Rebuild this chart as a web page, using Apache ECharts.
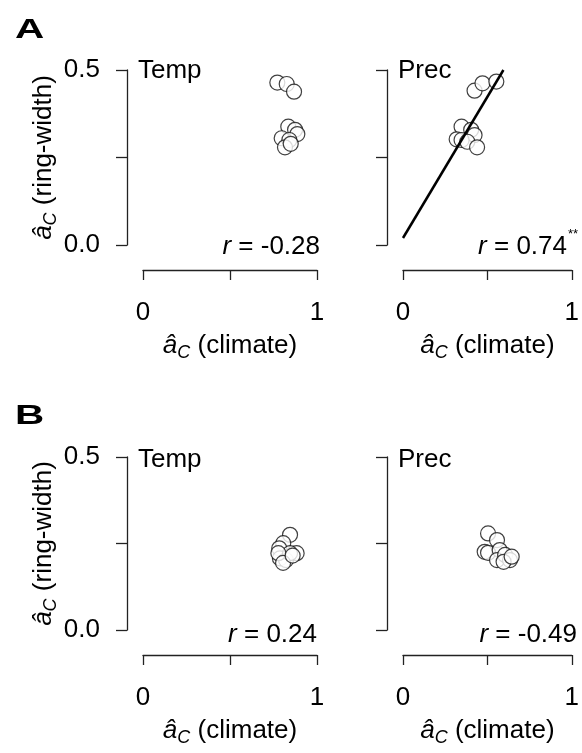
<!DOCTYPE html>
<html><head><meta charset="utf-8">
<script src="https://cdn.jsdelivr.net/npm/echarts@6/dist/echarts.min.js"></script>
<style>html,body{margin:0;padding:0;background:#fff}#c{width:582px;height:753px}</style>
</head><body><div id="c"></div>
<script>
// Data
const tempA_x = [0.772, 0.826, 0.868, 0.835, 0.874, 0.887, 0.797, 0.841, 0.816, 0.849];
const tempA_y = [0.464, 0.460, 0.438, 0.338, 0.329, 0.317, 0.305, 0.300, 0.279, 0.289];
const precA_x = [0.424, 0.471, 0.553, 0.347, 0.404, 0.424, 0.318, 0.347, 0.381, 0.439];
const precA_y = [0.441, 0.462, 0.467, 0.338, 0.329, 0.314, 0.302, 0.300, 0.295, 0.279];
const tempB_x = [0.845, 0.806, 0.783, 0.883, 0.787, 0.822, 0.845, 0.778, 0.805, 0.860];
const tempB_y = [0.275, 0.251, 0.236, 0.222, 0.207, 0.202, 0.222, 0.222, 0.194, 0.215];
const precB_x = [0.504, 0.557, 0.484, 0.504, 0.573, 0.557, 0.605, 0.634, 0.596, 0.644];
const precB_y = [0.279, 0.260, 0.226, 0.223, 0.231, 0.202, 0.217, 0.202, 0.197, 0.212];
const fitA_x = [0.0, 0.595];
const fitA_y = [0.02, 0.5];
const xTicks = [0, 0.5, 1];
const yTicks = [0, 0.25, 0.5];
const panelTitles = ['Temp', 'Prec', 'Temp', 'Prec'];
const rLabels = ['-0.28', '0.74', '0.24', '-0.49'];
const rStars = ['', '**', '', ''];

const FONT = 'Liberation Sans, Arial, sans-serif';
const FS = 26;
const zip = (a, b) => a.map((v, i) => [v, b[i]]);

const grids = [
  {left: 143, top: 70, width: 174, height: 175},
  {left: 403, top: 70, width: 174, height: 175},
  {left: 143, top: 457, width: 174, height: 173},
  {left: 403, top: 457, width: 174, height: 173}
];
const axisLine = {show: true, onZero: false, lineStyle: {color: '#222', width: 1.3}};
const subRich = {
  i: {fontStyle: 'italic', fontSize: FS, fontFamily: FONT, color: '#000'},
  s: {fontStyle: 'italic', fontSize: 18, fontFamily: FONT, color: '#000', padding: [14, 0, 0, 0]},
  n: {fontSize: FS, fontFamily: FONT, color: '#000'}
};
const xAxes = grids.map((g, i) => ({
  gridIndex: i, type: 'value', min: 0, max: 1, interval: 0.5, offset: 25,
  axisLine, axisTick: {show: true, length: 10, lineStyle: {color: '#222', width: 1.3}},
  splitLine: {show: false},
  axisLabel: {margin: 30, fontSize: FS, fontFamily: FONT, color: '#000',
    formatter: v => (v === 0 || v === 1) ? String(v) : ''},
  name: '{i|â}{s|C}{n| (climate)}', nameLocation: 'middle', nameGap: 60,
  nameTextStyle: {rich: subRich}
}));
const yAxes = grids.map((g, i) => ({
  gridIndex: i, type: 'value', min: 0, max: 0.5, interval: 0.25, offset: 16,
  axisLine, axisTick: {show: true, length: 11, lineStyle: {color: '#222', width: 1.3}},
  splitLine: {show: false},
  axisLabel: {show: i % 2 === 0, margin: 27, fontSize: FS, fontFamily: FONT, color: '#000',
    formatter: v => (v === 0 || v === 0.5) ? v.toFixed(1) : ''},
  name: i % 2 === 0 ? '{i|â}{s|C}{n| (ring-width)}' : '', nameLocation: 'middle', nameGap: 64,
  nameRotate: 90, nameTextStyle: {rich: subRich}
}));
const scatterStyle = {color: '#fff', borderColor: '#111', borderWidth: 1.2};
const sets = [[tempA_x, tempA_y], [precA_x, precA_y], [tempB_x, tempB_y], [precB_x, precB_y]];
const series = sets.map((s, i) => ({
  type: 'scatter', xAxisIndex: i, yAxisIndex: i, data: zip(s[0], s[1]),
  symbol: 'circle', symbolSize: 15, itemStyle: scatterStyle, silent: true
}));
series.push({
  type: 'line', xAxisIndex: 1, yAxisIndex: 1, data: zip(fitA_x, fitA_y),
  symbol: 'none', lineStyle: {color: '#000', width: 2.5}, z: 5, silent: true
});

const graphic = [];
const letters = [['A', 15, 31], ['B', 15, 417]];
letters.forEach(l => graphic.push({type: 'text', x: l[1], y: l[2], scaleX: 1.5,
  style: {text: l[0], font: 'bold 27px ' + FONT, fill: '#000', align: 'left', verticalAlign: 'middle',
    textAlign: 'left', textVerticalAlign: 'middle'}}));
const titleDy = [1, 1, 3, 3];
const rDy = [2, 2, 5, 5];
grids.forEach((g, i) => {
  graphic.push({type: 'text', x: g.left - 5, y: g.top + titleDy[i],
    style: {text: panelTitles[i], font: FS + 'px ' + FONT, fill: '#000', align: 'left', verticalAlign: 'middle',
      textAlign: 'left', textVerticalAlign: 'middle'}});
  const right = i === 0 ? g.left + g.width + 3 : (i === 1 ? g.left + g.width - 10 : g.left + g.width);
  graphic.push({type: 'text', x: right, y: g.top + g.height + rDy[i],
    style: {text: '{i|r}{n| = ' + rLabels[i] + '}',
      align: 'right', verticalAlign: 'middle', textAlign: 'right', textVerticalAlign: 'middle',
      rich: {i: {fontStyle: 'italic', fontSize: FS, fontFamily: FONT, color: '#000'},
             n: {fontSize: FS, fontFamily: FONT, color: '#000'}}}});
  if (rStars[i]) {
    graphic.push({type: 'text', x: right + 1, y: g.top + g.height - 11,
      style: {text: rStars[i], font: '13px ' + FONT, fill: '#000', align: 'left', verticalAlign: 'middle',
        textAlign: 'left', textVerticalAlign: 'middle'}});
  }
});

const chart = echarts.init(document.getElementById('c'), null, {renderer: 'canvas'});
chart.setOption({
  animation: false, backgroundColor: '#fff',
  grid: grids, xAxis: xAxes, yAxis: yAxes, series, graphic
});
</script></body></html>
